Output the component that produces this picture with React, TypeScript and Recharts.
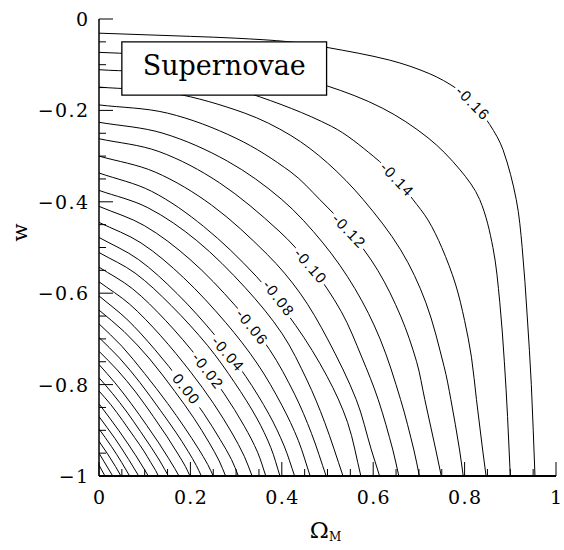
import React from 'react';
import { LineChart, Line, XAxis, YAxis, ReferenceArea, ReferenceDot } from 'recharts';

// Contour levels, one per path below (step 0.01)
const levels = [
  -0.16, -0.15, -0.14, -0.13, -0.12, -0.11, -0.1, -0.09, -0.08, -0.07, -0.06, -0.05, -0.04, -0.03, -0.02,
  -0.01, 0, 0.01, 0.02, 0.03, 0.04, 0.05, 0.06, 0.07, 0.08, 0.09, 0.1, 0.11, 0.12, 0.13,
];

// Each contour as [Omega_M, w] points, from the left edge down to the w = -1 edge
const contourPaths: [number, number][][] = [
  [[0, -0.031], [0.2, -0.038], [0.3, -0.042], [0.418, -0.05], [0.498, -0.062], [0.636, -0.09], [0.724, -0.12], [0.782, -0.152], [0.818, -0.183], [0.855, -0.231], [0.884, -0.286], [0.913, -0.395], [0.926, -0.5], [0.937, -0.65], [0.946, -0.8], [0.954, -1]],
  [[0, -0.073], [0.18, -0.082], [0.36, -0.11], [0.498, -0.146], [0.62, -0.195], [0.72, -0.26], [0.79, -0.33], [0.833, -0.395], [0.862, -0.5], [0.877, -0.62], [0.887, -0.75], [0.894, -0.87], [0.9, -1]],
  [[0, -0.111], [0.17, -0.122], [0.33, -0.163], [0.509, -0.235], [0.6, -0.3], [0.652, -0.35], [0.687, -0.395], [0.72, -0.44], [0.75, -0.5], [0.78, -0.58], [0.8, -0.66], [0.815, -0.74], [0.826, -0.833], [0.8395, -0.943], [0.847, -1]],
  [[0, -0.149], [0.16, -0.162], [0.319, -0.206], [0.42, -0.255], [0.5, -0.315], [0.578, -0.395], [0.66, -0.505], [0.715, -0.62], [0.755, -0.76], [0.77, -0.833], [0.789, -0.943], [0.797, -1]],
  [[0, -0.188], [0.15, -0.206], [0.3, -0.261], [0.42, -0.335], [0.483, -0.395], [0.547, -0.463], [0.61, -0.55], [0.66, -0.65], [0.695, -0.75], [0.713, -0.833], [0.737, -0.943], [0.749, -1]],
  [[0, -0.226], [0.14, -0.25], [0.281, -0.311], [0.4, -0.395], [0.49, -0.49], [0.56, -0.59], [0.615, -0.7], [0.66, -0.833], [0.689, -0.943], [0.701, -1]],
  [[0, -0.262], [0.131, -0.29], [0.263, -0.358], [0.394, -0.464], [0.463, -0.54], [0.53, -0.64], [0.575, -0.74], [0.611, -0.833], [0.643, -0.943], [0.656, -1]],
  [[0, -0.3], [0.123, -0.335], [0.246, -0.407], [0.368, -0.515], [0.44, -0.6], [0.5, -0.7], [0.563, -0.833], [0.596, -0.943], [0.614, -1]],
  [[0, -0.337], [0.115, -0.377], [0.229, -0.454], [0.344, -0.563], [0.43, -0.67], [0.499, -0.782], [0.544, -0.883], [0.573, -1]],
  [[0, -0.375], [0.107, -0.413], [0.214, -0.485], [0.32, -0.588], [0.401, -0.689], [0.455, -0.79], [0.494, -0.883], [0.534, -1]],
  [[0, -0.41], [0.099, -0.452], [0.199, -0.526], [0.298, -0.627], [0.373, -0.723], [0.428, -0.821], [0.465, -0.907], [0.497, -1]],
  [[0, -0.445], [0.092, -0.49], [0.185, -0.566], [0.277, -0.664], [0.347, -0.755], [0.4, -0.845], [0.436, -0.922], [0.462, -1]],
  [[0, -0.478], [0.086, -0.526], [0.171, -0.601], [0.257, -0.696], [0.321, -0.782], [0.372, -0.865], [0.405, -0.934], [0.428, -1]],
  [[0, -0.511], [0.079, -0.556], [0.158, -0.627], [0.238, -0.715], [0.297, -0.796], [0.345, -0.873], [0.376, -0.938], [0.396, -1]],
  [[0, -0.543], [0.073, -0.59], [0.146, -0.66], [0.219, -0.745], [0.274, -0.82], [0.318, -0.891], [0.347, -0.948], [0.365, -1]],
  [[0, -0.575], [0.067, -0.624], [0.134, -0.692], [0.201, -0.773], [0.251, -0.842], [0.291, -0.906], [0.318, -0.957], [0.335, -1]],
  [[0, -0.606], [0.061, -0.657], [0.122, -0.723], [0.183, -0.799], [0.229, -0.863], [0.265, -0.92], [0.29, -0.964], [0.305, -1]],
  [[0, -0.637], [0.055, -0.684], [0.111, -0.744], [0.166, -0.815], [0.208, -0.874], [0.241, -0.927], [0.263, -0.967], [0.277, -1]],
  [[0, -0.667], [0.05, -0.716], [0.1, -0.776], [0.15, -0.841], [0.188, -0.895], [0.218, -0.941], [0.238, -0.975], [0.25, -1]],
  [[0, -0.697], [0.045, -0.742], [0.09, -0.796], [0.134, -0.856], [0.168, -0.904], [0.195, -0.946], [0.213, -0.977], [0.224, -1]],
  [[0, -0.727], [0.04, -0.768], [0.08, -0.816], [0.119, -0.87], [0.149, -0.914], [0.173, -0.952], [0.189, -0.979], [0.199, -1]],
  [[0, -0.756], [0.035, -0.796], [0.07, -0.841], [0.105, -0.89], [0.131, -0.928], [0.152, -0.961], [0.166, -0.984], [0.175, -1]],
  [[0, -0.785], [0.03, -0.82], [0.061, -0.86], [0.091, -0.903], [0.114, -0.937], [0.132, -0.965], [0.144, -0.986], [0.152, -1]],
  [[0, -0.814], [0.026, -0.844], [0.052, -0.879], [0.078, -0.916], [0.098, -0.945], [0.113, -0.97], [0.124, -0.988], [0.13, -1]],
  [[0, -0.842], [0.043, -0.9], [0.081, -0.956], [0.108, -1]],
  [[0, -0.87], [0.035, -0.918], [0.065, -0.964], [0.087, -1]],
  [[0, -0.897], [0.027, -0.935], [0.05, -0.971], [0.067, -1]],
  [[0, -0.924], [0.019, -0.952], [0.036, -0.979], [0.048, -1]],
  [[0, -0.95], [0.03, -1]],
  [[0, -0.976], [0.013, -1]],
];

// In-line contour labels: text, position on the contour, text angle
const contourLabelText = ['-0.16', '-0.14', '-0.12', '-0.10', '-0.08', '-0.06', '-0.04', '-0.02', '0.00'];
const contourLabelAt: [number, number][] = [
  [0.818, -0.183], [0.652, -0.35], [0.547, -0.463], [0.463, -0.54], [0.393, -0.61],
  [0.335, -0.673], [0.282, -0.732], [0.238, -0.769], [0.191, -0.809],
];
const contourLabelAngle = [45, 46, 46, 49, 52, 51, 49, 52, 52];

// Axis ticks
const xTicks = [0, 0.05, 0.1, 0.15, 0.2, 0.25, 0.3, 0.35, 0.4, 0.45, 0.5, 0.55, 0.6, 0.65, 0.7, 0.75, 0.8, 0.85, 0.9, 0.95, 1];
const yTicks = [-1, -0.95, -0.9, -0.85, -0.8, -0.75, -0.7, -0.65, -0.6, -0.55, -0.5, -0.45, -0.4, -0.35, -0.3, -0.25, -0.2, -0.15, -0.1, -0.05, 0];
const xMajor = [0, 0.2, 0.4, 0.6, 0.8, 1];
const xMajorLabels = ['0', '0.2', '0.4', '0.6', '0.8', '1'];
const yMajor = [-1, -0.8, -0.6, -0.4, -0.2, 0];
const yMajorLabels = ['\u22121', '\u22120.8', '\u22120.6', '\u22120.4', '\u22120.2', '0'];

const boxTitle = 'Supernovae';
const boxRange = { x1: 0.05, x2: 0.498, y1: -0.1665, y2: -0.05 };

const SERIF = '"DejaVu Serif", "Liberation Serif", serif';
const SANS = '"Liberation Sans", Arial, sans-serif';
const MAJOR_LEN = 14;
const MINOR_LEN = 7;

// Smooth curve through every point (chord-length scaled cubic Hermite)
const smoothCurve = (context: any) => {
  let pts: number[][] = [];
  return {
    areaStart() {},
    areaEnd() {},
    lineStart() {
      pts = [];
    },
    point(x: number, y: number) {
      pts.push([+x, +y]);
    },
    lineEnd() {
      const n = pts.length;
      if (!n) return;
      context.moveTo(pts[0][0], pts[0][1]);
      if (n === 2) {
        context.lineTo(pts[1][0], pts[1][1]);
        return;
      }
      const dist = (a: number[], b: number[]) => Math.hypot(b[0] - a[0], b[1] - a[1]) || 1e-9;
      const tangent = (i: number) => {
        const a = pts[Math.max(i - 1, 0)];
        const b = pts[Math.min(i + 1, n - 1)];
        const len = dist(a, b);
        return [(b[0] - a[0]) / len, (b[1] - a[1]) / len];
      };
      for (let i = 0; i < n - 1; i++) {
        const p1 = pts[i];
        const p2 = pts[i + 1];
        const seg = dist(p1, p2) / 3;
        const t1 = tangent(i);
        const t2 = tangent(i + 1);
        context.bezierCurveTo(p1[0] + t1[0] * seg, p1[1] + t1[1] * seg, p2[0] - t2[0] * seg, p2[1] - t2[1] * seg, p2[0], p2[1]);
      }
    },
  };
};

const majorIndex = (v: number, majors: number[]) => majors.findIndex((m) => Math.abs(m - v) < 1e-6);

const BottomTick = (props: any) => {
  const { x, y, payload } = props;
  const i = majorIndex(payload.value, xMajor);
  const len = i >= 0 ? MAJOR_LEN : MINOR_LEN;
  return (
    <g>
      <line x1={x} x2={x} y1={y} y2={y - len} stroke="#000" strokeWidth={1} />
      {i >= 0 && (
        <text x={x + 0.7} y={y + 27.5} textAnchor="middle" fontFamily={SERIF} fontSize={19} letterSpacing={1.4} fill="#000">
          {xMajorLabels[i]}
        </text>
      )}
    </g>
  );
};

const TopTick = (props: any) => {
  const { x, y, payload } = props;
  const len = majorIndex(payload.value, xMajor) >= 0 ? MAJOR_LEN : MINOR_LEN;
  return <line x1={x} x2={x} y1={y} y2={y + len} stroke="#000" strokeWidth={1} />;
};

const LeftTick = (props: any) => {
  const { x, y, payload } = props;
  const i = majorIndex(payload.value, yMajor);
  const len = i >= 0 ? MAJOR_LEN : MINOR_LEN;
  return (
    <g>
      <line x1={x} x2={x + len} y1={y} y2={y} stroke="#000" strokeWidth={1} />
      {i >= 0 && (
        <text x={x - 9.5} y={y + 7} textAnchor="end" fontFamily={SERIF} fontSize={19} letterSpacing={1.4} fill="#000">
          {yMajorLabels[i]}
        </text>
      )}
    </g>
  );
};

const RightTick = (props: any) => {
  const { x, y, payload } = props;
  const len = majorIndex(payload.value, yMajor) >= 0 ? MAJOR_LEN : MINOR_LEN;
  return <line x1={x} x2={x - len} y1={y} y2={y} stroke="#000" strokeWidth={1} />;
};

const XTitle = (props: any) => {
  const vb = props.viewBox || { x: 0, y: 0, width: 0, height: 0 };
  const cx = vb.x + vb.width / 2 - 2;
  return (
    <text x={cx} y={vb.y + 62} textAnchor="middle" fontFamily={SERIF} fontSize={23} fill="#000">
      {'\u03A9'}
      <tspan fontSize={12} dy={3}>M</tspan>
    </text>
  );
};

const YTitle = (props: any) => {
  const vb = props.viewBox || { x: 0, y: 0, width: 0, height: 0 };
  const cx = vb.x + 27;
  const cy = vb.y + vb.height / 2 - 15;
  return (
    <text x={cx} y={cy} transform={`rotate(-90, ${cx}, ${cy})`} textAnchor="middle" fontFamily={SERIF} fontSize={21} fill="#000">
      w
    </text>
  );
};

const BoxLabel = (props: any) => {
  const vb = props.viewBox || { x: 0, y: 0, width: 0, height: 0 };
  return (
    <text x={vb.x + vb.width / 2} y={vb.y + 33} textAnchor="middle" fontFamily={SERIF} fontSize={27} fill="#000">
      {boxTitle}
    </text>
  );
};

const makeContourLabel = (text: string, angle: number) => (props: any) => {
  const { cx, cy } = props;
  return (
    <g transform={`translate(${cx}, ${cy}) rotate(${angle})`}>
      <rect x={-23} y={-6.5} width={46} height={13} fill="#fff" />
      <text x={0.5} y={5.5} textAnchor="middle" fontFamily={SANS} fontSize={15} letterSpacing={1.5} fill="#000">
        {text}
      </text>
    </g>
  );
};

const contourSeries = contourPaths.map((path) => path.map(([om, w]) => ({ om, w })));
const frameData = [{ om: 0, w: -1 }, { om: 1, w: 0 }];

export default function App() {
  return (
    <div>
      <style>{'body { margin: 0; }'}</style>
      <LineChart width={564} height={550} margin={{ top: 19, right: 8, bottom: 0, left: 0 }}>
        <XAxis
          xAxisId="x"
          dataKey="om"
          type="number"
          domain={[0, 1]}
          ticks={xTicks}
          interval={0}
          height={74}
          tickSize={0}
          tickMargin={0}
          tickLine={false}
          axisLine={{ stroke: '#000', strokeWidth: 2 }}
          tick={BottomTick}
          allowDataOverflow
          label={<XTitle />}
        />
        <XAxis
          xAxisId="top"
          orientation="top"
          dataKey="om"
          type="number"
          domain={[0, 1]}
          ticks={xTicks}
          interval={0}
          height={0}
          tickSize={0}
          tickMargin={0}
          tickLine={false}
          axisLine={{ stroke: '#000', strokeWidth: 1.5 }}
          tick={TopTick}
          allowDataOverflow
        />
        <YAxis
          yAxisId="y"
          dataKey="w"
          type="number"
          domain={[-1, 0]}
          ticks={yTicks}
          interval={0}
          width={99}
          tickSize={0}
          tickMargin={0}
          tickLine={false}
          axisLine={{ stroke: '#000', strokeWidth: 1.5 }}
          tick={LeftTick}
          allowDataOverflow
          label={<YTitle />}
        />
        <YAxis
          yAxisId="right"
          orientation="right"
          dataKey="w"
          type="number"
          domain={[-1, 0]}
          ticks={yTicks}
          interval={0}
          width={0}
          tickSize={0}
          tickMargin={0}
          tickLine={false}
          axisLine={{ stroke: '#000', strokeWidth: 1.5 }}
          tick={RightTick}
          allowDataOverflow
        />
        <Line
          xAxisId="top"
          yAxisId="right"
          data={frameData}
          dataKey="w"
          stroke="none"
          dot={false}
          activeDot={false}
          isAnimationActive={false}
        />
        {contourSeries.map((data, i) => (
          <Line
            key={`c${levels[i]}`}
            name={String(levels[i])}
            xAxisId="x"
            yAxisId="y"
            data={data}
            dataKey="w"
            type={smoothCurve as any}
            stroke="#000"
            strokeWidth={1}
            dot={false}
            activeDot={false}
            isAnimationActive={false}
          />
        ))}
        {contourLabelText.map((t, i) => (
          <ReferenceDot
            key={`l${t}`}
            xAxisId="x"
            yAxisId="y"
            x={contourLabelAt[i][0]}
            y={contourLabelAt[i][1]}
            r={1}
            ifOverflow="visible"
            zIndex={1600}
            shape={makeContourLabel(t, contourLabelAngle[i])}
          />
        ))}
        <ReferenceArea
          xAxisId="x"
          yAxisId="y"
          x1={boxRange.x1}
          x2={boxRange.x2}
          y1={boxRange.y1}
          y2={boxRange.y2}
          fill="#fff"
          fillOpacity={1}
          stroke="#000"
          strokeWidth={1.3}
          ifOverflow="visible"
          zIndex={1700}
          label={<BoxLabel />}
        />
      </LineChart>
    </div>
  );
}
